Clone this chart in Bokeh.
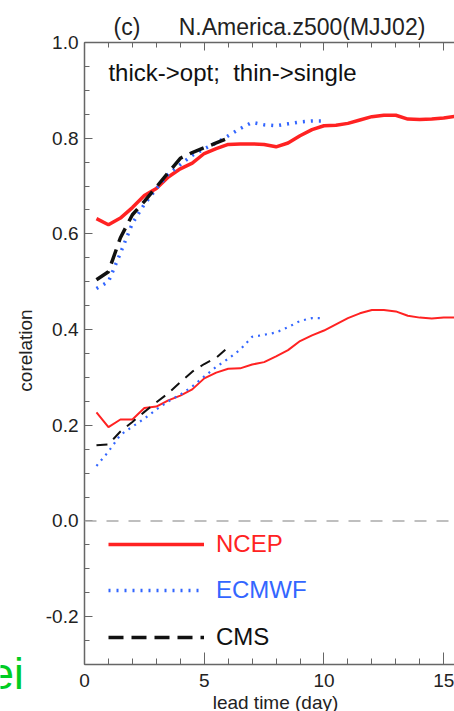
import math
from bokeh.plotting import figure
from bokeh.layouts import row, column
from bokeh.models import (Label, Span, LinearAxis, FixedTicker, Range1d,
                          PrintfTickFormatter, Legend, LegendItem)
from bokeh.embed import file_html
from bokeh.resources import INLINE

# ---------------- data ----------------
lead_ncep = [0.5, 1.0, 1.5, 2.0, 2.5, 3.0, 3.5, 4.0, 4.5, 5.0, 5.5, 6.0, 6.5, 7.0, 7.5, 8.0,
             8.5, 9.0, 9.5, 10.0, 10.5, 11.0, 11.5, 12.0, 12.5, 13.0, 13.5, 14.0, 14.5, 15.0, 15.5]
ncep_opt = [0.632, 0.619, 0.633, 0.655, 0.680, 0.695, 0.719, 0.736, 0.748, 0.768, 0.778, 0.787,
            0.788, 0.788, 0.787, 0.782, 0.790, 0.805, 0.818, 0.826, 0.827, 0.831, 0.838, 0.845,
            0.848, 0.848, 0.840, 0.839, 0.840, 0.842, 0.846]
ncep_single = [0.227, 0.196, 0.212, 0.212, 0.236, 0.239, 0.252, 0.262, 0.275, 0.298, 0.310, 0.318,
               0.319, 0.327, 0.332, 0.344, 0.357, 0.376, 0.388, 0.398, 0.411, 0.424, 0.434, 0.441,
               0.441, 0.438, 0.429, 0.425, 0.423, 0.425, 0.425]

lead_ecmwf = [0.5, 1.0, 1.5, 2.0, 2.5, 3.0, 3.5, 4.0, 4.5, 5.0, 5.5, 6.0, 6.5, 7.0, 7.5, 8.0,
              8.5, 9.0, 9.5, 10.0]
ecmwf_opt = [0.486, 0.500, 0.560, 0.622, 0.662, 0.694, 0.725, 0.745, 0.764, 0.778, 0.790, 0.805,
             0.820, 0.833, 0.828, 0.826, 0.830, 0.834, 0.836, 0.836]
ecmwf_single = [0.115, 0.145, 0.180, 0.197, 0.214, 0.233, 0.250, 0.264, 0.281, 0.302, 0.322, 0.339,
                0.358, 0.385, 0.389, 0.394, 0.405, 0.418, 0.424, 0.424]

lead_cms = [0.5, 1.0, 1.5, 2.0, 2.5, 3.0, 3.5, 4.0, 4.5, 5.0, 5.5, 6.0]
cms_opt = [0.504, 0.521, 0.592, 0.640, 0.668, 0.698, 0.728, 0.758, 0.770, 0.780, 0.790, 0.800]
cms_single = [0.158, 0.160, 0.187, 0.207, 0.228, 0.248, 0.267, 0.290, 0.312, 0.328, 0.341, 0.363]

x_major = [0, 5, 10, 15]
x_minor = list(range(0, 16))
y_major = [-0.2, 0.0, 0.2, 0.4, 0.6, 0.8, 1.0]
y_minor = [round(-0.3 + 0.05 * i, 2) for i in range(27)]

RED = "#ff2222"
BLUE = "#3366ff"
BLACK = "#111111"
GREEN = "#00cc22"
TXT = "#222222"
FONT = "Liberation Sans"
NB = "\u00a0"


def bare(w, h):
    f = figure(width=w, height=h, output_backend="svg", toolbar_location=None,
               x_axis_type=None, y_axis_type=None, min_border=0,
               x_range=Range1d(0, 1), y_range=Range1d(0, 1))
    f.outline_line_color = None
    f.xgrid.visible = False
    f.ygrid.visible = False
    f.background_fill_color = "white"
    f.border_fill_color = "white"
    return f


# ---------------- main plot ----------------
p = figure(width=420, height=695, output_backend="svg", toolbar_location=None,
           x_range=Range1d(0, 15.45), y_range=Range1d(-0.3, 1.0),
           min_border_left=50, min_border_right=0, min_border_top=42, min_border_bottom=31,
           title="(c)" + NB * 6 + "N.America.z500(MJJ02)")
p.outline_line_color = None
p.xgrid.visible = False
p.ygrid.visible = False
p.background_fill_color = "white"
p.border_fill_color = "white"

p.title.text_font = FONT
p.title.text_font_size = "23px"
p.title.text_font_style = "normal"
p.title.text_color = TXT
p.title.align = "left"
p.title.offset = 29
p.title.standoff = 6

AX = "#666666"
for ax in p.xaxis:
    ax.ticker = FixedTicker(ticks=x_major, minor_ticks=x_minor)
    ax.major_tick_in = 12
    ax.major_tick_out = 0
    ax.minor_tick_in = 6
    ax.minor_tick_out = 0
    ax.axis_line_color = AX
    ax.major_tick_line_color = AX
    ax.minor_tick_line_color = AX
    ax.axis_line_width = 1.5
    ax.major_label_text_font = FONT
    ax.major_label_text_font_size = "19px"
    ax.major_label_text_color = TXT
    ax.major_label_standoff = 9

for ax in p.yaxis:
    ax.ticker = FixedTicker(ticks=y_major, minor_ticks=y_minor)
    ax.formatter = PrintfTickFormatter(format="%.1f")
    ax.major_tick_in = 8
    ax.major_tick_out = 0
    ax.minor_tick_in = 5
    ax.minor_tick_out = 0
    ax.axis_line_color = AX
    ax.major_tick_line_color = AX
    ax.minor_tick_line_color = AX
    ax.axis_line_width = 1.5
    ax.major_label_text_font = FONT
    ax.major_label_text_font_size = "19px"
    ax.major_label_text_color = TXT
    ax.major_label_standoff = 6

top = LinearAxis(ticker=FixedTicker(ticks=x_major, minor_ticks=x_minor),
                 major_tick_in=8, major_tick_out=0, minor_tick_in=5, minor_tick_out=0,
                 axis_line_color=AX, major_tick_line_color=AX, minor_tick_line_color=AX,
                 axis_line_width=1.5, major_label_text_font_size="0px",
                 major_label_text_alpha=0, major_label_standoff=0)
p.add_layout(top, "above")

# zero line
p.add_layout(Span(location=0, dimension="width", line_color="#aaaaaa",
                  line_width=1.5, line_dash="12 10"))

# curves
r_ncep = p.line(lead_ncep, ncep_opt, line_color=RED, line_width=3.5)
p.line(lead_ncep, ncep_single, line_color=RED, line_width=2)
r_ecmwf = p.line(lead_ecmwf, ecmwf_opt, line_color=BLUE, line_width=3.5, line_dash="2 6")
p.line(lead_ecmwf, ecmwf_single, line_color=BLUE, line_width=2.2, line_dash="2 5")
r_cms = p.line(lead_cms, cms_opt, line_color=BLACK, line_width=3.5, line_dash="15 8")
p.line(lead_cms, cms_single, line_color=BLACK, line_width=2, line_dash="11 8")

# legends (one per entry so each label has its own colour)
legend_specs = [("NCEP", r_ncep, RED, 106), ("ECMWF", r_ecmwf, BLUE, 60), ("CMS", r_cms, BLACK, 13)]
for name, rend, col, ypos in legend_specs:
    lg = Legend(items=[LegendItem(label=name, renderers=[rend])],
                location=(24, ypos), glyph_width=96, glyph_height=26,
                label_height=26, label_standoff=12, padding=0, margin=0, spacing=0,
                label_text_font=FONT, label_text_font_size="24px",
                label_text_color=col, border_line_color=None,
                background_fill_alpha=0)
    p.add_layout(lg)

# in-frame note
p.add_layout(Label(x=1.0, y=0.937, text="thick->opt;" + NB + " thin->single", text_font=FONT,
                   text_font_size="24px", text_color="#111111", text_baseline="middle"))

# ---------------- left strip: y-axis title and stray green fragment ----------------
p_left = bare(34, 711)
p_left.add_layout(Label(x=25, y=361, x_units="screen", y_units="screen", text="corelation",
                        angle=math.pi / 2, text_font=FONT, text_font_size="19px",
                        text_color=TXT, text_align="center", text_baseline="middle"))
p_left.add_layout(Label(x=-11, y=38, x_units="screen", y_units="screen", text="ei",
                        text_font=FONT, text_font_size="44px", text_color=GREEN,
                        text_baseline="alphabetic"))

# ---------------- bottom strip: x-axis title ----------------
p_bot = bare(420, 16)
p_bot.add_layout(Label(x=191, y=9, x_units="screen", y_units="screen", text="lead time (day)",
                       text_font=FONT, text_font_size="19px", text_color=TXT,
                       text_align="center", text_baseline="middle"))

layout = row(p_left, column(p, p_bot, spacing=0), spacing=0)

open("out.html", "w").write(file_html(layout, INLINE))
